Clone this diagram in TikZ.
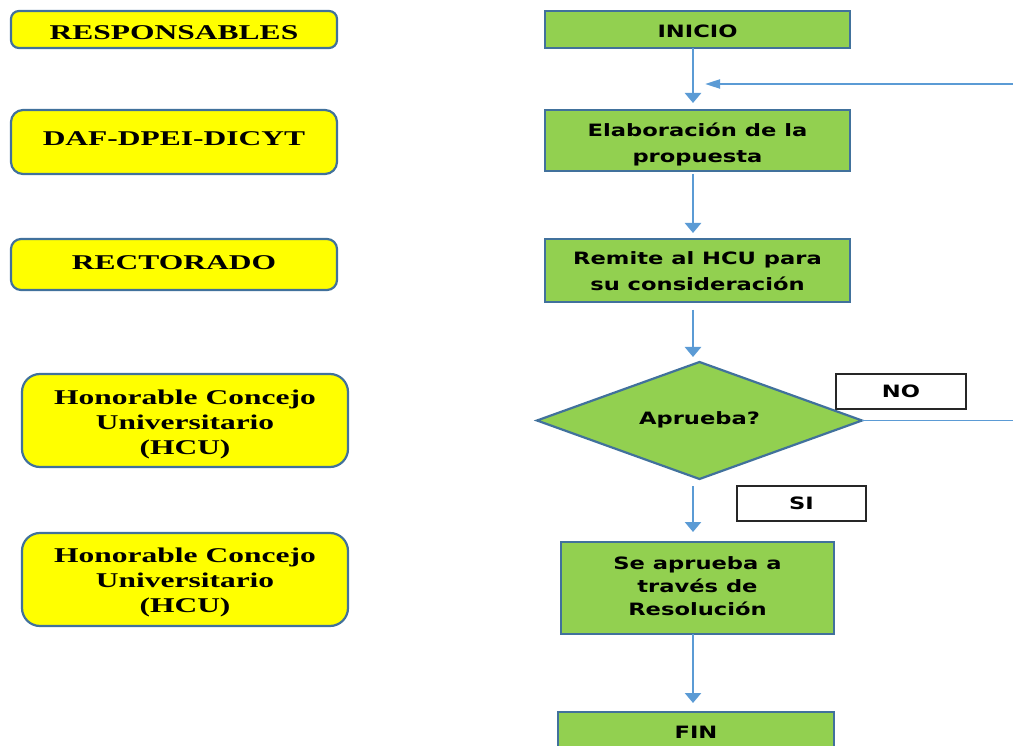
\documentclass[tikz,border=0pt]{standalone}
\usepackage{fontspec}
\newfontfamily\lfont[FakeStretch=1.5]{Liberation Serif}
\newfontfamily\rfont[FakeStretch=1.33]{DejaVu Sans}
\usetikzlibrary{shapes.geometric,arrows.meta,calc}
\definecolor{bordc}{HTML}{41719C}
\definecolor{greenc}{HTML}{92D050}
\definecolor{yellc}{HTML}{FFFF00}
\definecolor{arrc}{HTML}{5B9BD5}
\newcommand{\sh}[2]{\raisebox{#1}[\height][\depth]{#2}}
\newcommand{\mylines}[2]{\raisebox{#1}[\height][\depth]{\begin{tabular}{@{}c@{}}#2\end{tabular}}}
\tikzset{
  respbox/.style={draw=bordc, fill=yellc, line width=2.2pt, inner sep=0pt, outer sep=0pt,
    font={\lfont\bfseries\fontsize{21}{25}\selectfont}},
  stepbox/.style={draw=bordc, fill=greenc, line width=2.2pt, inner sep=0pt, outer sep=0pt,
    minimum width=305pt},
  rtext/.style={font={\rfont\bfseries\fontsize{17}{#1}\selectfont}},
  labbox/.style={draw=black!85, fill=white, line width=1.3pt, inner sep=0pt, outer sep=0pt,
    minimum width=130pt, minimum height=35pt, font={\rfont\bfseries\fontsize{17}{19}\selectfont}},
  arr/.style={draw=arrc, line width=2.6pt, -{Triangle[width=16pt,length=10pt]}},
  farr/.style={draw=arrc, line width=2pt, -{Triangle[width=9pt,length=15pt]}},
  fline/.style={draw=arrc, line width=1.8pt},
}
\begin{document}
\begin{tikzpicture}[x=1pt,y=-1pt]
\useasboundingbox (0,0) rectangle (1013,746);
% left column
\node[respbox, rounded corners=8pt, minimum width=326pt, minimum height=37pt] (resp) at (174,29.5) {\sh{-3pt}{RESPONSABLES}};
\node[respbox, rounded corners=12pt, minimum width=326pt, minimum height=64pt] (daf) at (174,142) {\sh{3pt}{DAF-DPEI-DICYT}};
\node[respbox, rounded corners=10pt, minimum width=326pt, minimum height=51pt] (rect) at (174,264.5) {\sh{2pt}{RECTORADO}};
\node[respbox, rounded corners=18pt, minimum width=326pt, minimum height=93pt] (hcua) at (185,420.5) {\mylines{-4pt}{Honorable Concejo\\Universitario\\(HCU)}};
\node[respbox, rounded corners=18pt, minimum width=326pt, minimum height=93pt] (hcub) at (185,579.5) {\mylines{-3pt}{Honorable Concejo\\Universitario\\(HCU)}};
% right column
\coordinate (ax) at (693,0);
\coordinate (edgeA) at (1013,84);
\coordinate (tipA) at (705,84);
\coordinate (edgeB) at (1013,0);
\node[labbox] (no) at (901,391.5) {NO};
\node[labbox, minimum width=129pt] (si) at (801.5,503.5) {SI};
\node[stepbox, rtext=19, minimum height=37pt] (inicio) at (697.5,29.5) {\sh{-2pt}{INICIO}};
\node[stepbox, rtext=26, minimum height=61pt] (elab) at (697.5,140.5) {\mylines{-4pt}{Elaboración de la\\propuesta}};
\node[stepbox, rtext=26, minimum height=63pt] (remite) at (697.5,270.5) {\mylines{-2pt}{Remite al HCU para\\su consideración}};
\node[diamond, aspect=2.78, draw=bordc, fill=greenc, line width=2.2pt, inner sep=0pt, outer sep=0pt,
  minimum width=325pt, minimum height=117pt, rtext=19] (dia) at (699.5,420.5) {\sh{1pt}{Aprueba?}};
\node[stepbox, rtext=23, minimum width=273pt, minimum height=92pt] (seap) at (697.5,588) {\mylines{0pt}{Se aprueba a\\través de\\Resolución}};
\node[stepbox, rtext=19, minimum width=276pt, minimum height=40pt] (fin) at (696,732) {FIN};
% connectors
\draw[arr] (inicio.south -| ax) -- ($(elab.north -| ax)+(0,-7)$);
\draw[farr] (edgeA) -- (tipA);
\draw[arr] ($(elab.south -| ax)+(0,3)$) -- ($(remite.north -| ax)+(0,-6)$);
\draw[arr] ($(remite.south -| ax)+(0,8)$) -- ($(dia.north -| ax)+(0,-5)$);
\draw[fline] (dia.east) -- (dia.east -| edgeB);
\draw[arr] ($(dia.south -| ax)+(0,7)$) -- ($(seap.north -| ax)+(0,-10)$);
\draw[arr] (seap.south -| ax) -- ($(fin.north -| ax)+(0,-9)$);
\end{tikzpicture}
\end{document}
